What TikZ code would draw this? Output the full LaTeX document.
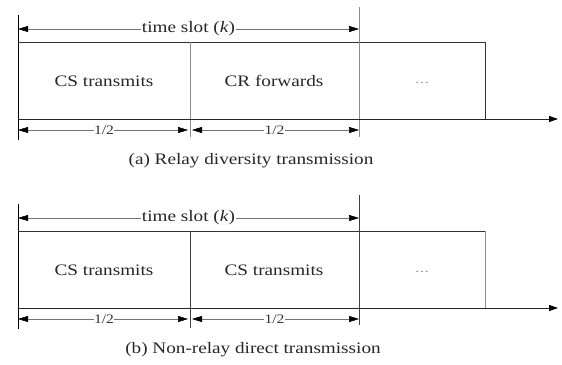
\documentclass[tikz,border=0pt]{standalone}
\usepackage{fontspec}
\setmainfont{Liberation Serif}[FakeStretch=1.2]
\usetikzlibrary{arrows.meta}
\begin{document}
\begin{tikzpicture}[x=1pt,y=1pt,
  boxline/.style={draw=black!80, line width=0.9pt},
  divline/.style={draw=black!45, line width=0.6pt},
  edgeline/.style={draw=black, line width=0.9pt},
  tip/.tip={Triangle[length=10pt,width=6pt,fill=black,color=black]},
  dimline/.style={draw=black!55, line width=0.5pt, tip-tip},
  axisline/.style={draw=black!85, line width=0.9pt, -{Triangle[length=9pt,width=6pt,fill=black,color=black]}},
  cell/.style={font=\fontsize{16}{18}\selectfont, text=black!85},
  dimlbl/.style={font=\fontsize{16}{18}\selectfont, fill=white, inner sep=1pt, text=black!85},
  halflbl/.style={font=\fontsize{13}{15}\selectfont, fill=white, inner sep=0.5pt, text=black!80},
  dots/.style={font=\fontsize{12}{14}\selectfont, text=black!50},
  caption/.style={font=\fontsize{16}{18}\selectfont, text=black!85}]
\useasboundingbox (0,0) rectangle (562,-364);

% ---------- panel (a) ----------
\begin{scope}
  \coordinate (aL1) at (18,-15);  \coordinate (aL2) at (18,-140);
  \coordinate (aM1) at (190,-42); \coordinate (aM2) at (190,-137);
  \coordinate (aR1) at (359,-7);  \coordinate (aR2) at (359,-137);
  \coordinate (aTL) at (18,-42);  \coordinate (aTR) at (485,-42);
  \coordinate (aBR) at (485,-119);
  \coordinate (aX0) at (18,-119); \coordinate (aX1) at (558,-119);
  \coordinate (aT0) at (18,-29);  \coordinate (aT1) at (359,-29);
  \coordinate (aH0) at (18,-130); \coordinate (aHm) at (190,-130); \coordinate (aH1) at (359,-130);
  \draw[edgeline] (aL1) -- (aL2);
  \draw[boxline] (aTL) -- (aTR) -- (aBR);
  \draw[divline] (aM1) -- (aM2);
  \draw[divline] (aR1) -- (aR2);
  \draw[axisline] (aX0) -- (aX1);
  \draw[dimline] (aT0) -- node[dimlbl] (aTlbl) {time slot (\textit{k})} (aT1);
  \draw[dimline, shorten >=2pt] (aH0) -- node[halflbl] (aH1lbl) {1/2} (aHm);
  \draw[dimline, shorten <=2pt] (aHm) -- node[halflbl] (aH2lbl) {1/2} (aH1);
  \node[cell] (aC1) at (104,-81) {CS transmits};
  \node[cell] (aC2) at (274,-81) {CR forwards};
  \node[dots] (aC3) at (422,-83) {\dots};
  \node[caption] (acap) at (251,-161) {(a) Relay diversity transmission};
\end{scope}

% ---------- panel (b) ----------
\begin{scope}[yshift=-189pt]
  \coordinate (bL1) at (18,-15);  \coordinate (bL2) at (18,-140);
  \coordinate (bM1) at (190,-42); \coordinate (bM2) at (190,-139);
  \coordinate (bR1) at (359,-6);  \coordinate (bR2) at (359,-136);
  \coordinate (bTL) at (18,-42);  \coordinate (bTR) at (485,-42);
  \coordinate (bBR) at (485,-119);
  \coordinate (bX0) at (18,-119); \coordinate (bX1) at (558,-119);
  \coordinate (bT0) at (18,-29);  \coordinate (bT1) at (359,-29);
  \coordinate (bH0) at (18,-130); \coordinate (bHm) at (190,-130); \coordinate (bH1) at (359,-130);
  \draw[edgeline] (bL1) -- (bL2);
  \draw[boxline] (bTL) -- (bTR);
  \draw[draw=black!45, line width=0.9pt] (bTR) -- (bBR);
  \draw[draw=black!75, line width=0.7pt] (bM1) -- (bM2);
  \draw[draw=black!75, line width=0.7pt] (bR1) -- (bR2);
  \draw[axisline] (bX0) -- (bX1);
  \draw[dimline] (bT0) -- node[dimlbl] (bTlbl) {time slot (\textit{k})} (bT1);
  \draw[dimline, shorten >=2pt] (bH0) -- node[halflbl] (bH1lbl) {1/2} (bHm);
  \draw[dimline, shorten <=2pt] (bHm) -- node[halflbl] (bH2lbl) {1/2} (bH1);
  \node[cell] (bC1) at (104,-81) {CS transmits};
  \node[cell] (bC2) at (274,-81) {CS transmits};
  \node[dots] (bC3) at (422,-83) {\dots};
  \node[caption] (bcap) at (253,-161) {(b) Non-relay direct transmission};
\end{scope}
\end{tikzpicture}
\end{document}
